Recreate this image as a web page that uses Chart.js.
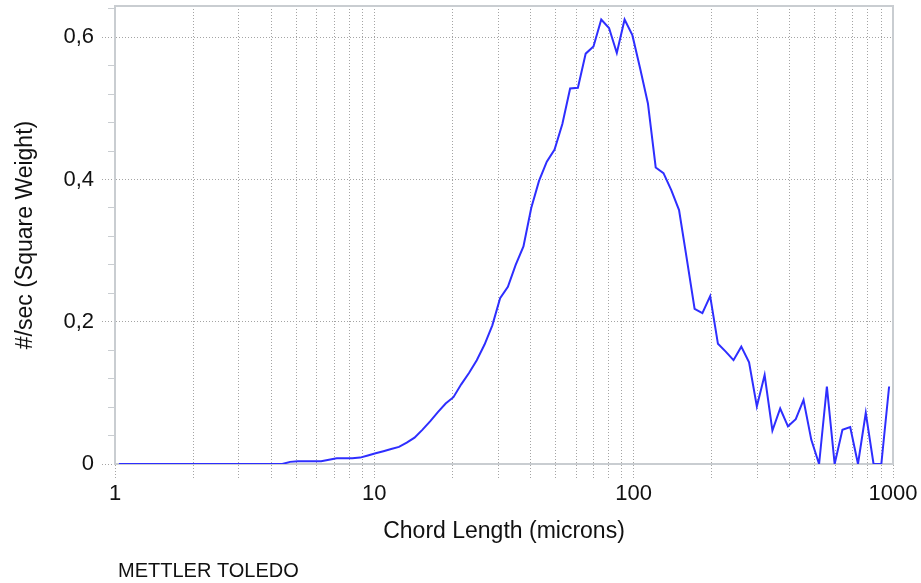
<!DOCTYPE html>
<html>
<head>
<meta charset="utf-8">
<title>Chord Length Distribution</title>
<script src="https://cdn.jsdelivr.net/npm/chart.js@4/dist/chart.umd.min.js"></script>
<style>
  html, body { margin: 0; padding: 0; background: #ffffff; }
  #wrap { width: 921px; height: 583px; position: relative; }
</style>
</head>
<body>
<div id="wrap"><canvas id="cld" width="921" height="583"></canvas></div>
<script>
// Square-weighted counts (#/sec) for 100 log-spaced chord length channels, 1 to 1000 microns
const counts = [
  0, 0, 0, 0, 0, 0, 0, 0, 0, 0,
  0, 0, 0, 0, 0, 0, 0, 0, 0, 0,
  0, 0, 0.003, 0.004, 0.004, 0.004, 0.004, 0.006, 0.008, 0.008,
  0.008, 0.009, 0.012, 0.015, 0.018, 0.021, 0.024, 0.030, 0.037, 0.048,
  0.060, 0.073, 0.085, 0.094, 0.112, 0.128, 0.146, 0.168, 0.195, 0.233,
  0.249, 0.280, 0.306, 0.360, 0.398, 0.425, 0.442, 0.478, 0.528, 0.529,
  0.577, 0.587, 0.625, 0.613, 0.578, 0.625, 0.603, 0.556, 0.507, 0.417,
  0.409, 0.385, 0.357, 0.288, 0.218, 0.212, 0.236, 0.169, 0.158, 0.146,
  0.165, 0.143, 0.081, 0.125, 0.047, 0.078, 0.053, 0.063, 0.090, 0.034,
  0, 0.109, 0, 0.048, 0.052, 0, 0.072, 0, 0, 0.109
];

// Axis ticks
const decades = [1, 10, 100, 1000];
const decadeSteps = [1, 2, 3, 4, 5, 6, 7, 8, 9];
const yMajorValues = [0, 0.2, 0.4, 0.6];
const yMajorLabels = ['0', '0,2', '0,4', '0,6'];

const xTitle = 'Chord Length (microns)';
const yTitle = '#/sec (Square Weight)';
const brand = 'METTLER TOLEDO';

// Channel midpoints on the logarithmic chord length grid
const chordLengths = counts.map((_, i) => Math.pow(10, 3 * (i + 0.5) / counts.length));
const points = counts.map((v, i) => ({ x: chordLengths[i], y: v }));

const FONT = '"Liberation Sans", Arial, sans-serif';
const TEXT = '#111111';
const FRAME = '#c9cdd1';
const DOTS = '#a4a4a4';

const isYMajor = v => yMajorValues.some(m => Math.abs(m - v) < 1e-6);
const isDecade = v => decades.some(d => Math.abs(d - v) < 1e-6);

// Top and right edges of the plot frame
const framePlugin = {
  id: 'frame',
  beforeDatasetsDraw(chart) {
    const { ctx, chartArea: a } = chart;
    ctx.save();
    ctx.strokeStyle = FRAME;
    ctx.lineWidth = 2;
    ctx.beginPath();
    ctx.moveTo(a.left, a.top);
    ctx.lineTo(a.right, a.top);
    ctx.lineTo(a.right, a.bottom);
    ctx.stroke();
    ctx.restore();
  }
};

// Maker's mark under the chart
const brandPlugin = {
  id: 'brand',
  afterDraw(chart) {
    const { ctx } = chart;
    ctx.save();
    ctx.font = '20px ' + FONT;
    ctx.fillStyle = TEXT;
    ctx.textAlign = 'left';
    ctx.textBaseline = 'alphabetic';
    ctx.fillText(brand, 118, 577);
    ctx.restore();
  }
};

new Chart(document.getElementById('cld'), {
  type: 'line',
  data: {
    datasets: [{
      data: points,
      borderColor: '#2e2eff',
      borderWidth: 2,
      pointRadius: 0,
      tension: 0,
      fill: false
    }]
  },
  options: {
    responsive: false,
    devicePixelRatio: 1,
    animation: false,
    layout: { padding: { top: 6, right: 28, bottom: 0, left: 0 } },
    plugins: {
      legend: { display: false },
      tooltip: { enabled: false }
    },
    scales: {
      x: {
        type: 'logarithmic',
        position: 'bottom',
        min: 1,
        max: 1000,
        afterBuildTicks(scale) {
          const ticks = [];
          decades.forEach(d => {
            decadeSteps.forEach(s => {
              const v = d * s;
              if (v <= 1000) ticks.push({ value: v });
            });
          });
          scale.ticks = ticks;
        },
        afterFit(scale) {
          scale.height = 119;
          scale.paddingLeft = 0;
          scale.paddingRight = 0;
        },
        ticks: {
          autoSkip: false,
          maxRotation: 0,
          minRotation: 0,
          padding: 3,
          color: TEXT,
          font: { family: FONT, size: 22 },
          callback: v => isDecade(v) ? String(v) : ''
        },
        grid: {
          drawOnChartArea: true,
          drawTicks: true,
          tickLength: 14,
          lineWidth: 1,
          color: ctx => (ctx.tick && (ctx.tick.value === 1 || ctx.tick.value === 1000)) ? 'rgba(0,0,0,0)' : DOTS,
          tickColor: DOTS,
          tickWidth: 1,
          tickBorderDash: [1, 2]
        },
        border: { display: true, color: FRAME, width: 2, dash: [1, 2] },
        title: {
          display: true,
          text: xTitle,
          color: TEXT,
          font: { family: FONT, size: 23 },
          padding: { top: 0, bottom: 38 }
        }
      },
      y: {
        type: 'linear',
        position: 'left',
        min: 0,
        max: 0.644,
        afterFit(scale) {
          scale.width = 115;
          scale.paddingTop = 0;
          scale.paddingBottom = 0;
        },
        ticks: {
          stepSize: 0.04,
          includeBounds: false,
          autoSkip: false,
          padding: 8,
          color: TEXT,
          font: { family: FONT, size: 22 },
          callback: v => {
            const i = yMajorValues.findIndex(m => Math.abs(m - v) < 1e-6);
            return i >= 0 ? yMajorLabels[i] : '';
          }
        },
        grid: {
          drawOnChartArea: true,
          drawTicks: true,
          tickLength: 13,
          lineWidth: 1,
          color: ctx => (ctx.tick && isYMajor(ctx.tick.value) && ctx.tick.value > 0) ? DOTS : 'rgba(0,0,0,0)',
          tickColor: ctx => (ctx.tick && isYMajor(ctx.tick.value)) ? DOTS : FRAME,
          tickWidth: 1,
          tickBorderDash: ctx => (ctx.tick && isYMajor(ctx.tick.value)) ? [1, 2] : [0, 6, 20]
        },
        border: { display: true, color: FRAME, width: 2, dash: [1, 2] },
        title: {
          display: true,
          text: yTitle,
          color: TEXT,
          font: { family: FONT, size: 23 },
          padding: { top: 12, bottom: 0 }
        }
      }
    }
  },
  plugins: [framePlugin, brandPlugin]
});
</script>
</body>
</html>
